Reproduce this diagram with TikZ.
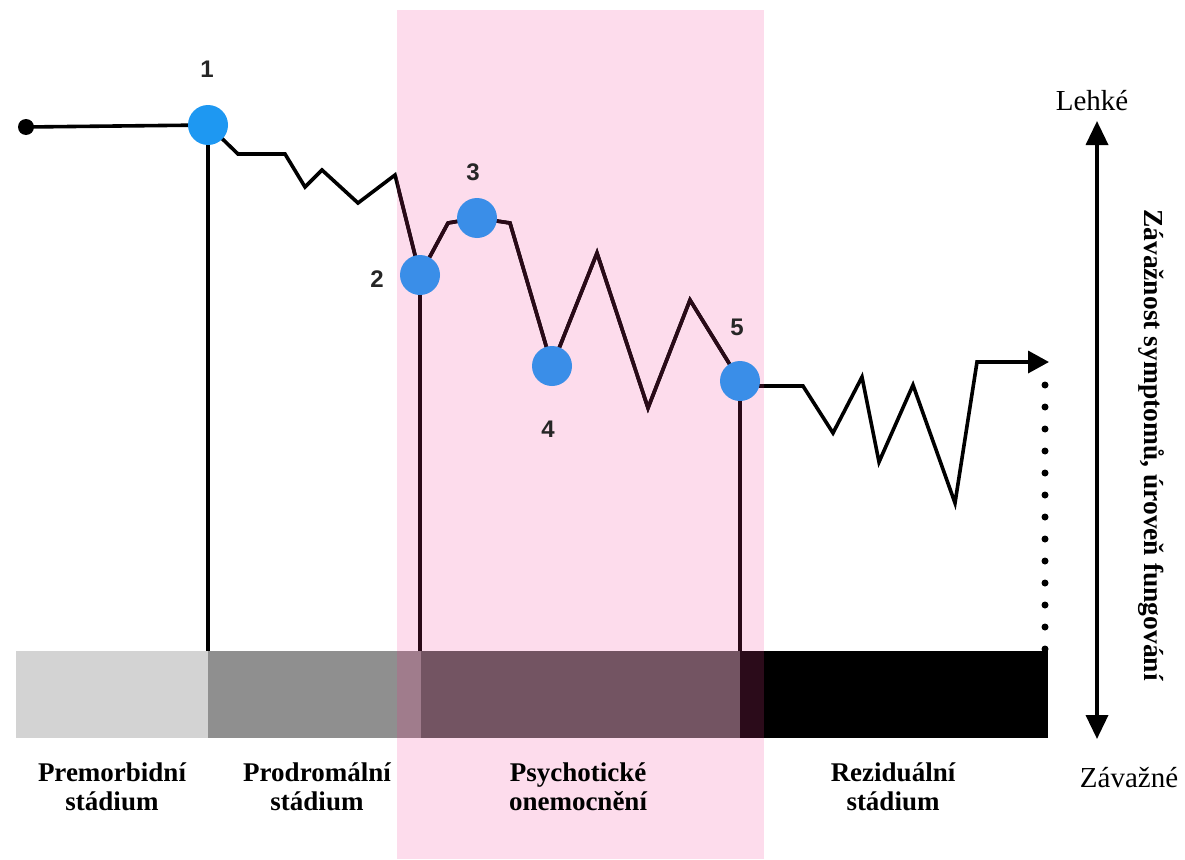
\documentclass[tikz,border=0pt]{standalone}
\usepackage{fontspec}
\setmainfont{Liberation Serif}
\newfontfamily\numfont{Liberation Sans}
\usetikzlibrary{arrows.meta}
\definecolor{pinkbg}{HTML}{FDDCEC}
\definecolor{inkline}{HTML}{2A0A18}
\definecolor{dotblue}{HTML}{1E98F2}
\definecolor{dotblueb}{HTML}{3A8EE8}
\definecolor{barA}{HTML}{D3D3D3}
\definecolor{barB}{HTML}{8F8F8F}
\definecolor{barBp}{HTML}{A07C8C}
\definecolor{barC}{HTML}{735462}
\definecolor{barDp}{HTML}{2B0B1A}
\tikzset{
  curve/.style={line width=3.6pt, line join=miter},
  stem/.style={line width=3.6pt},
  event/.style={circle, fill=dotblueb, minimum size=40pt, inner sep=0pt},
  numlabel/.style={font=\numfont\bfseries\fontsize{24}{24}\selectfont, text=black!85},
  stagelabel/.style={align=center, font=\bfseries\fontsize{27}{29}\selectfont},
  axislabel/.style={font=\fontsize{29}{31}\selectfont, anchor=base}
}
\begin{document}
\begin{tikzpicture}[x=1pt,y=-1pt]
\useasboundingbox (0,0) rectangle (1185,859);
\fill[white] (0,0) rectangle (1185,859);
\fill[pinkbg] (397,10) rectangle (764,859);
% bar
\fill[barA]  (16,651) rectangle (208,738);
\fill[barB]  (208,651) rectangle (397,738);
\fill[barBp] (397,651) rectangle (421,738);
\fill[barC]  (421,651) rectangle (740,738);
\fill[barDp] (740,651) rectangle (764,738);
\fill[black] (764,651) rectangle (1048,738);
% coordinates
\coordinate (c1p) at (208,125);
\coordinate (c2p) at (420,275);
\coordinate (c3p) at (477,218);
\coordinate (c4p) at (552,366);
\coordinate (c5p) at (740,381);
\coordinate (b1) at (208,651);
\coordinate (b2) at (420,651);
\coordinate (b5) at (740,651);
\coordinate (endp) at (1049,362);
\node[circle, fill=black, minimum size=16pt, inner sep=0pt] (s) at (26,127) {};
\def\mycurve{(c1p) -- (238,154) -- (285,154) -- (305,187) -- (322,170) -- (358,203) -- (395,175) -- (c2p) -- (448,223) -- (c3p) -- (510,223) -- (c4p) -- (597,253) -- (648,408) -- (690,300) -- (c5p) -- (752,386) -- (803,386) -- (833,433) -- (862,377) -- (879,462) -- (913,385) -- (955,503) -- (977,362) -- (endp)}
\draw[curve, -{Triangle[length=21pt,width=22pt]}] \mycurve;
\draw[stem] (s.center) -- (c1p);
\draw[stem] (c1p) -- (b1);
\begin{scope}
  \clip (397,0) rectangle (764,859);
  \draw[curve, inkline] \mycurve;
\end{scope}
\draw[stem, inkline] (c2p) -- (b2);
\draw[stem, inkline] (c5p) -- (b5);
% events
\node[event, fill=dotblue] (c1) at (c1p) {};
\node[event] (c2) at (c2p) {};
\node[event] (c3) at (c3p) {};
\node[event] (c4) at (c4p) {};
\node[event] (c5) at (c5p) {};
\node[numlabel] (n1) at (207,69) {1};
\node[numlabel] (n2) at (377,279) {2};
\node[numlabel] (n3) at (473,172) {3};
\node[numlabel] (n4) at (548,429) {4};
\node[numlabel] (n5) at (737,327) {5};
% dotted continuation
\foreach \i in {0,...,12} \fill (1045,385+22*\i) circle (3.5pt);
% axis
\coordinate (atop) at (1097,121);
\coordinate (abot) at (1097,739);
\draw[line width=3.6pt, {Triangle[length=24pt,width=22pt]}-{Triangle[length=24pt,width=22pt]}] (atop) -- (abot);
\node[axislabel] (light) at (1092,110) {Lehké};
\node[axislabel] (severe) at (1129,787) {Závažné};
\node[rotate=-90, font=\bfseries\fontsize{27.5}{30}\selectfont] (axt) at (1151,445) {Závažnost symptomů, úroveň fungování};
% stage labels
\node[stagelabel] (st1) at (112,787) {Premorbidní\\stádium};
\node[stagelabel] (st2) at (317,787) {Prodromální\\stádium};
\node[stagelabel] (st3) at (578,787) {Psychotické\\onemocnění};
\node[stagelabel] (st4) at (893,787) {Reziduální\\stádium};
\end{tikzpicture}
\end{document}
